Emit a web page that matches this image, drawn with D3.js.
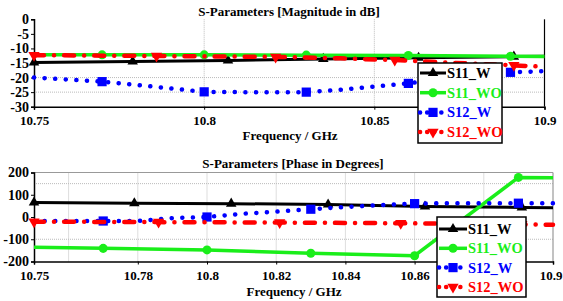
<!DOCTYPE html>
<html>
<head>
<meta charset="utf-8">
<script src="https://cdn.jsdelivr.net/npm/d3@7"></script>
<style>
  body { margin: 0; background: #fff; }
  text { font-family: "Liberation Serif", "Times New Roman", serif; font-weight: bold; }
</style>
</head>
<body>
<svg id="chart" width="563" height="301"></svg>
<script>
// ---- data: magnitude panel (dB) ----
var magYTicks = [0, -5, -10, -15, -20, -25, -30];
var magXTicks = [10.75, 10.8, 10.85, 10.9];
var magXGrid = [10.8, 10.85];
var magYGrid = [-20, -25];

var magS11W_f = [10.75, 10.779, 10.807, 10.835, 10.863, 10.891, 10.9];
var magS11W_v = [-14.8, -14.5, -14.1, -13.6, -13.2, -12.8, -12.7];
var magS11WO_f = [10.75, 10.77, 10.8, 10.83, 10.86, 10.89, 10.9];
var magS11WO_v = [-12.2, -12.2, -12.2, -12.3, -12.4, -12.7, -12.8];
var magS12W_f = [10.75, 10.76, 10.77, 10.78, 10.79, 10.8, 10.81, 10.82, 10.83, 10.84, 10.85, 10.86, 10.87, 10.88, 10.89, 10.9];
var magS12W_v = [-20.0, -20.7, -21.4, -22.5, -23.7, -24.9, -25.0, -25.0, -25.0, -24.2, -23.1, -22.0, -20.5, -19.2, -18.2, -17.8];
var magS12WO_f = [10.75, 10.786, 10.821, 10.84, 10.856, 10.87, 10.891, 10.9];
var magS12WO_v = [-12.3, -12.6, -12.9, -13.4, -14.0, -14.8, -15.8, -16.3];

// ---- data: phase panel (degrees) ----
var phYTicks = [200, 100, 0, -100, -200];
var phXTicks = [10.75, 10.78, 10.8, 10.82, 10.84, 10.86, 10.9];
var phXGrid = [10.76, 10.78, 10.8, 10.82, 10.84, 10.86, 10.88];
var phYGrid = [150, -100];

var phS11W_f = [10.75, 10.779, 10.807, 10.835, 10.863, 10.891, 10.9];
var phS11W_v = [65, 62, 60, 56, 47, 43, 42];
var phS11WO_f = [10.75, 10.77, 10.8, 10.83, 10.86, 10.89, 10.9];
var phS11WO_v = [-136, -141, -148, -163, -174, 178, 176];
var phS12W_f = [10.75, 10.76, 10.77, 10.78, 10.79, 10.8, 10.81, 10.82, 10.83, 10.84, 10.85, 10.86, 10.87, 10.88, 10.89, 10.9];
var phS12W_v = [-18, -18, -18, -18, -5, 0, 14, 24, 35, 45, 53, 60, 62, 62, 62, 62];
var phS12WO_f = [10.75, 10.786, 10.821, 10.856, 10.891, 10.9];
var phS12WO_v = [-21, -23, -25, -28, -33, -35];

// marker frequencies per series
var markS11W = [10.75, 10.779, 10.807, 10.835, 10.863, 10.891];
var markS11WO = [10.77, 10.8, 10.83, 10.86, 10.89];
var markS12W = [10.77, 10.8, 10.83, 10.86, 10.89];
var markS12WO = [10.75, 10.786, 10.821, 10.856, 10.891];

var names = ["S11_W", "S11_WO", "S12_W", "S12_WO"];
var colors = ["#000000", "#1aee1a", "#0000ff", "#ff0000"];

function pts(f, v) {
  return f.map(function(d, i) { return [d, v[i]]; });
}

var styles = [
  {width: 3, dash: null, cap: "butt", symbol: d3.symbolTriangle, size: 48, rot: 0},
  {width: 3.5, dash: null, cap: "butt", symbol: d3.symbolCircle, size: 64, rot: 0},
  {width: 4.5, dash: "0.1,10.5", cap: "round", symbol: d3.symbolSquare, size: 85, rot: 0},
  {width: 4.5, dash: "10,10,0.1,10", cap: "round", symbol: d3.symbolTriangle, size: 55, rot: 180}
];

var svg = d3.select("#chart");
svg.append("rect").attr("width", 563).attr("height", 301).attr("fill", "#fff");

function drawPanel(p) {
  var x = d3.scaleLinear().domain([10.75, 10.9]).range([p.left, p.right]);
  var y = d3.scaleLinear().domain(p.yDomain).range([p.bottom, p.top]);
  var g = svg.append("g");

  // grid
  g.selectAll(".vg").data(p.xGrid).enter().append("line")
    .attr("x1", function(d) { return x(d); }).attr("x2", function(d) { return x(d); })
    .attr("y1", p.top).attr("y2", p.bottom)
    .attr("stroke", "#bbb").attr("stroke-width", 1).attr("stroke-dasharray", "1,1");
  g.selectAll(".hg").data(p.yGrid).enter().append("line")
    .attr("x1", p.left).attr("x2", p.right)
    .attr("y1", function(d) { return y(d); }).attr("y2", function(d) { return y(d); })
    .attr("stroke", "#bbb").attr("stroke-width", 1).attr("stroke-dasharray", "1,1");

  // frame on the right
  g.append("line").attr("x1", p.right).attr("x2", p.right).attr("y1", p.top).attr("y2", p.bottom)
    .attr("stroke", p.frame).attr("stroke-width", 1.2);
  if (p.topLine) {
    g.append("line").attr("x1", p.left).attr("x2", p.right).attr("y1", p.top).attr("y2", p.top)
      .attr("stroke", p.frame).attr("stroke-width", 1);
  }

  // axes
  var xa = g.append("g").attr("transform", "translate(0," + p.bottom + ")")
    .call(d3.axisBottom(x).tickValues(p.xTicks).tickFormat(function(d) { return d; }).tickSize(3).tickPadding(6));
  var ya = g.append("g").attr("transform", "translate(" + p.left + ",0)")
    .call(d3.axisLeft(y).tickValues(p.yTicks).tickFormat(function(d) { return d; }).tickSize(3).tickPadding(2));
  [xa, ya].forEach(function(a) {
    a.attr("font-family", null).attr("font-size", 13);
    a.select(".domain").attr("stroke-width", 1.5);
    a.selectAll("text").attr("fill", "#000");
  });
  ya.attr("font-size", 14);
  // last x label sits against the page edge
  xa.selectAll(".tick").filter(function(d) { return d === 10.9 && p.right > 550; })
    .select("text").attr("text-anchor", "end").attr("x", 562 - p.right);

  // series
  p.series.forEach(function(s, i) {
    var st = styles[i];
    var line = d3.line().x(function(d) { return x(d[0]); }).y(function(d) { return y(d[1]); });
    g.append("path").datum(s.data)
      .attr("d", line).attr("fill", "none")
      .attr("stroke", colors[i]).attr("stroke-width", st.width)
      .attr("stroke-dasharray", st.dash).attr("stroke-linecap", st.cap);
    var mk = s.data.filter(function(d) { return s.marks.indexOf(d[0]) >= 0; });
    g.selectAll(".m" + i).data(mk).enter().append("path")
      .attr("d", d3.symbol().type(st.symbol).size(st.size))
      .attr("transform", function(d) { return "translate(" + x(d[0]) + "," + y(d[1]) + ") rotate(" + st.rot + ")"; })
      .attr("fill", colors[i]);
  });

  // titles
  g.append("text").attr("x", p.titleX).attr("y", p.titleY).attr("text-anchor", "middle")
    .attr("font-size", 13).text(p.title);
  g.append("text").attr("x", p.xLabelX).attr("y", p.xLabelY).attr("text-anchor", "middle")
    .attr("font-size", 13).text("Frequency / GHz");

  // legend
  var L = p.legend;
  g.append("rect").attr("x", L.x).attr("y", L.y).attr("width", L.w).attr("height", L.h)
    .attr("fill", "#fff").attr("stroke", "#000").attr("stroke-width", 1.5);
  names.forEach(function(n, i) {
    var st = styles[i];
    var cy = L.y + L.first + i * L.step;
    g.append("line").attr("x1", L.x + 2).attr("x2", L.x + L.lineW).attr("y1", cy).attr("y2", cy)
      .attr("stroke", colors[i]).attr("stroke-width", st.width)
      .attr("stroke-dasharray", st.dash ? "0.1,7" : null).attr("stroke-linecap", st.cap);
    g.append("path").attr("d", d3.symbol().type(st.symbol).size(st.size))
      .attr("transform", "translate(" + (L.x + 1 + L.lineW / 2) + "," + cy + ") rotate(" + st.rot + ")")
      .attr("fill", colors[i]);
    g.append("text").attr("x", L.x + L.lineW + 1).attr("y", cy + 5)
      .attr("font-size", 14.5).attr("fill", colors[i]).text(n);
  });
}

drawPanel({
  left: 34, right: 544.5, top: 19.3, bottom: 106.7,
  yDomain: [-30, 0], yTicks: magYTicks, xTicks: magXTicks, xGrid: magXGrid, yGrid: magYGrid,
  frame: "#000", topLine: false,
  title: "S-Parameters [Magnitude in dB]", titleX: 289, titleY: 16,
  xLabelX: 290, xLabelY: 140,
  legend: {x: 418, y: 63, w: 84, h: 80, first: 10, step: 19.7, lineW: 28},
  series: [
    {data: pts(magS11W_f, magS11W_v), marks: markS11W},
    {data: pts(magS11WO_f, magS11WO_v), marks: markS11WO},
    {data: pts(magS12W_f, magS12W_v), marks: markS12W},
    {data: pts(magS12WO_f, magS12WO_v), marks: markS12WO}
  ]
});

drawPanel({
  left: 34, right: 553, top: 172.5, bottom: 261.5,
  yDomain: [-200, 200], yTicks: phYTicks, xTicks: phXTicks, xGrid: phXGrid, yGrid: phYGrid,
  frame: "#999", topLine: true,
  title: "S-Parameters [Phase in Degrees]", titleX: 293, titleY: 168,
  xLabelX: 294, xLabelY: 296,
  legend: {x: 437, y: 217, w: 89, h: 80, first: 12, step: 19.3, lineW: 30},
  series: [
    {data: pts(phS11W_f, phS11W_v), marks: markS11W},
    {data: pts(phS11WO_f, phS11WO_v), marks: markS11WO},
    {data: pts(phS12W_f, phS12W_v), marks: markS12W},
    {data: pts(phS12WO_f, phS12WO_v), marks: markS12WO}
  ]
});
</script>
</body>
</html>
